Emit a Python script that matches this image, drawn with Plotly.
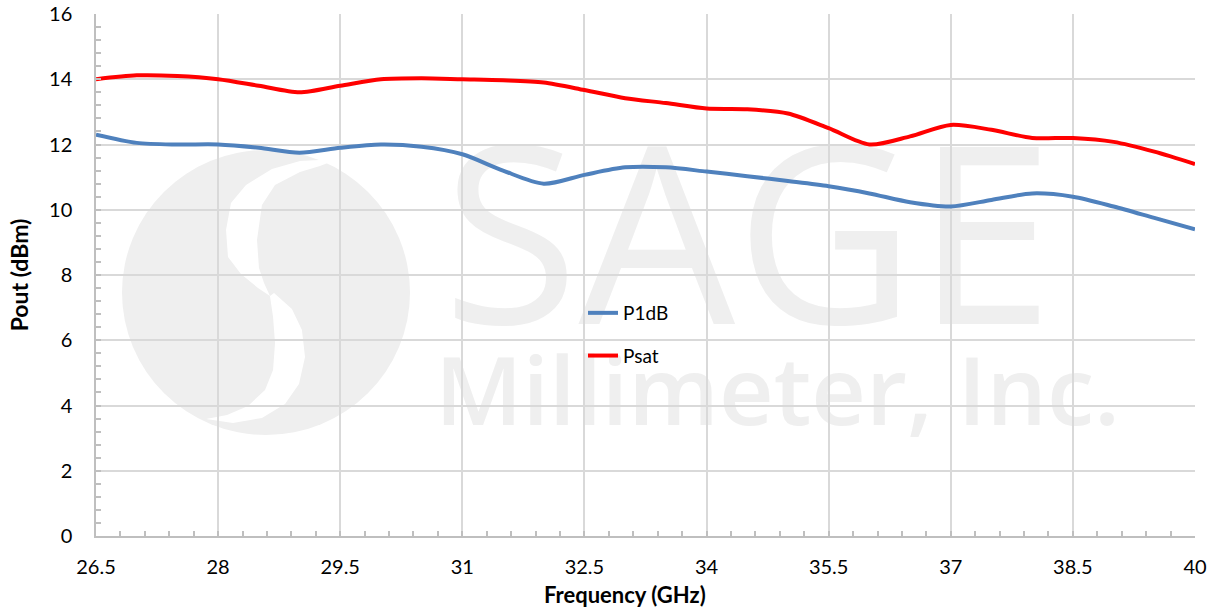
import plotly.graph_objects as go

# ---- data ----
freq_ghz = [26.5, 27, 27.5, 28, 28.5, 29, 29.5, 30, 30.5, 31, 31.5, 32, 32.5, 33,
            33.5, 34, 34.5, 35, 35.5, 36, 36.5, 37, 37.5, 38, 38.5, 39, 39.5, 40]
p1db_dbm = [12.3, 12.05, 12.0, 12.0, 11.9, 11.75, 11.9, 12.0, 11.93, 11.7, 11.2, 10.8,
            11.07, 11.3, 11.3, 11.17, 11.03, 10.88, 10.72, 10.5, 10.23, 10.1, 10.3, 10.5,
            10.4, 10.1, 9.75, 9.4]
psat_dbm = [14.0, 14.12, 14.1, 14.0, 13.8, 13.6, 13.8, 14.0, 14.03, 14.0, 13.97, 13.9,
            13.67, 13.42, 13.27, 13.1, 13.08, 12.95, 12.5, 12.0, 12.25, 12.6, 12.45, 12.2,
            12.2, 12.08, 11.78, 11.4]
series_names = ["P1dB", "Psat"]
x_title = "Frequency (GHz)"
y_title = "Pout (dBm)"
watermark_big = "SAGE"
watermark_small = "Millimeter, Inc."

# ---- geometry (screen pixels; body margin removed by post_script) ----
W, H = 1212, 610
SL, SR, ST, SB = 96, 1195, 14, 536          # plot area
L, R, T, B = SL, SR, ST, SB


def px(xs):
    return (xs - SL) / (SR - SL)


def py(ys):
    return (SB - ys) / (SB - ST)


def poly(points):
    s = "M" + " L".join(f"{px(a):.4f},{py(b):.4f}" for a, b in points)
    return s + " Z"


fig = go.Figure()
colors = ["#4F81BD", "#FF0000"]
for name, vals, col in zip(series_names, [p1db_dbm, psat_dbm], colors):
    fig.add_trace(go.Scatter(
        x=freq_ghz, y=vals, name=name, mode="lines",
        line=dict(color=col, width=4, shape="spline", smoothing=0.8),
        legendgroup=name,
    ))

wm_color = "#EFEFEF"
shapes = []
# logo circle
shapes.append(dict(type="circle", xref="paper", yref="paper", layer="below",
                   x0=px(122), x1=px(410), y0=py(435), y1=py(150),
                   fillcolor=wm_color, line=dict(width=0)))
upper = [(338, 159), (300, 161), (272, 169), (246, 185), (231, 203), (226, 230),
         (228, 257), (241, 274), (258, 288), (270, 296),
         (264, 283), (259, 268), (257, 240), (262, 205), (275, 185), (300, 172),
         (320, 166)]
lower = [(270, 296), (273, 317), (275, 343), (273, 370), (265, 390), (248, 406),
         (227, 415), (206, 419),
         (233, 423), (262, 418), (285, 404), (299, 384), (305, 357), (302, 330),
         (292, 309), (274, 293)]
for p in (upper, lower):
    shapes.append(dict(type="path", xref="paper", yref="paper", layer="below",
                       path=poly(p), fillcolor="white", line=dict(width=0)))
# watermark texts
shapes.append(dict(type="rect", xref="paper", yref="paper", layer="below",
                   x0=px(430), x1=px(1066), y0=py(335), y1=py(155),
                   fillcolor="rgba(0,0,0,0)", line=dict(width=0),
                   label=dict(text=watermark_big, textposition="middle center",
                              font=dict(family="Open Sans", size=248, color=wm_color))))
shapes.append(dict(type="rect", xref="paper", yref="paper", layer="below",
                   x0=px(430), x1=px(1125), y0=py(434), y1=py(356),
                   fillcolor="rgba(0,0,0,0)", line=dict(width=0),
                   label=dict(text=watermark_small, textposition="middle center",
                              font=dict(family="Open Sans", size=95, color=wm_color,
                                        weight=600))))

axis_common = dict(
    showline=True, linecolor="#BFBFBF", linewidth=1.5,
    showgrid=True, gridcolor="#D9D9D9", gridwidth=1.5,
    ticks="inside", ticklen=5, tickcolor="#BFBFBF", tickwidth=1.5,
    zeroline=False, mirror=False, automargin=False, ticklabeloverflow="allow",
    tickfont=dict(family="Lato", size=20, color="#000000"),
)

fig.update_layout(
    width=W, height=H,
    margin=dict(l=L, r=W - R, t=T, b=H - B, pad=0, autoexpand=False),
    paper_bgcolor="white", plot_bgcolor="white",
    shapes=shapes,
    showlegend=True,
    hovermode=False,
    legend=dict(x=px(583), y=py(294), xanchor="left", yanchor="top",
                bgcolor="rgba(0,0,0,0)", borderwidth=0,
                font=dict(family="Lato", size=19, color="#000000"),
                traceorder="grouped", tracegroupgap=15),
    xaxis=dict(range=[26.5, 40], tick0=26.5, dtick=1.5, ticklabelstandoff=12,
               minor=dict(ticks="inside", ticklen=5, tickcolor="#BFBFBF", tickwidth=1.5,
                          tick0=26.5, dtick=0.3, showgrid=False),
               **axis_common),
    yaxis=dict(range=[0, 16], tick0=0, dtick=2, ticklabelstandoff=18,
               minor=dict(ticks="inside", ticklen=5, tickcolor="#BFBFBF", tickwidth=1.5,
                          tick0=0, dtick=0.4, showgrid=False),
               title=dict(text=f"<b>{y_title}</b>", standoff=14,
                          font=dict(family="Lato", size=23, color="#000000")),
               **axis_common),
    annotations=[dict(text=f"<b>{x_title}</b>", xref="paper", yref="paper",
                      x=px(625), y=py(594), xanchor="center", yanchor="middle",
                      showarrow=False,
                      font=dict(family="Lato", size=22, color="#000000"))],
)

fig.write_html("out.html",
               config={"displayModeBar": False},
               post_script="document.body.style.margin='0';"
                           "document.body.style.overflow='hidden';")
